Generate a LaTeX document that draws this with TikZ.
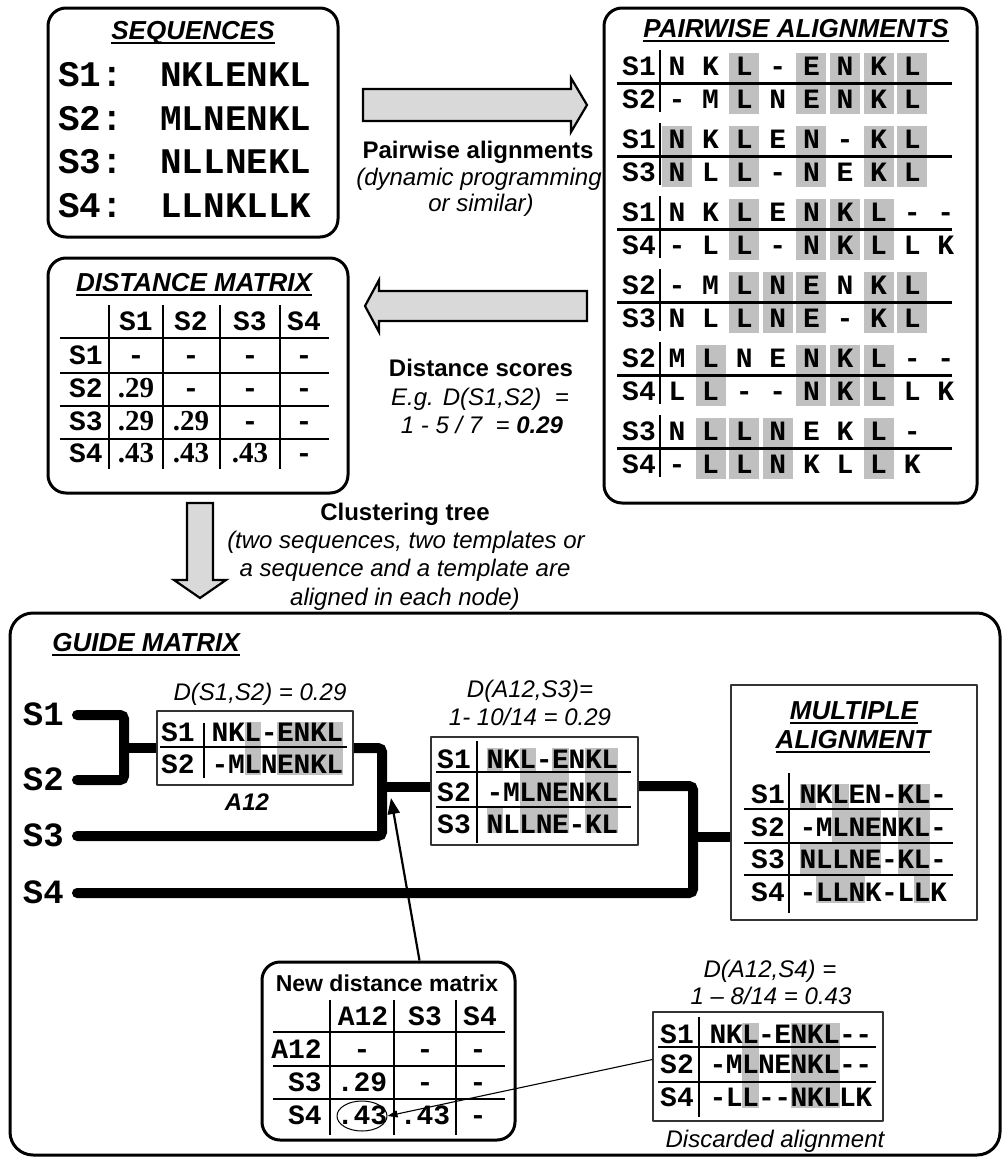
\documentclass[tikz,border=0pt]{standalone}
\usepackage{fontspec}
\setmainfont{Liberation Sans}
\setsansfont{Liberation Sans}
\setmonofont{Liberation Mono}
\newfontfamily\numfont{Liberation Serif}
\usetikzlibrary{arrows.meta,backgrounds,calc,positioning,shapes.geometric}
\definecolor{maShade}{HTML}{C0C0C0}
\definecolor{maArrowFill}{HTML}{D9D9D9}
\definecolor{maFrame}{HTML}{333333}
\newcommand{\fsLab}{\fontsize{24}{28}\selectfont}
\newcommand{\fsTitle}{\fontsize{26}{30}\selectfont}
\newcommand{\fsRes}{\fontsize{28}{30}\selectfont}
\newcommand{\fsSeq}{\fontsize{36}{40}\selectfont}
\newcommand{\fsTree}{\fontsize{34}{36}\selectfont}
\newcommand{\dmnum}[1]{{\numfont\bfseries\fontsize{29}{31}\selectfont #1}}
\tikzset{
  ma diagram/.style={x=1pt, y=-1pt, line join=round},
  ma panel/.style={draw, line width=3pt, rounded corners=18pt},
  ma frame/.style={draw=maFrame, line width=1.3pt, fill=white},
  ma block/.style={draw, line width=2.2pt, fill=maArrowFill, line join=miter},
  ma tree/.style={line width=10pt, line cap=round, rounded corners=4pt},
  ma rule/.style={line width=2.6pt},
  ma uline/.style={line width=2pt},
  ma shade/.style={fill=maShade},
  ma title/.style={font=\fsTitle\bfseries\itshape, inner sep=0pt, text height=19pt, text depth=0pt},
  ma label/.style={font=\fsLab, inner sep=0pt, text height=17pt, text depth=0pt},
  ma label bold/.style={ma label, font=\fsLab\bfseries},
  ma note/.style={ma label, font=\fsLab\itshape},
  ma res/.style={font=\ttfamily\bfseries\fsRes, inner sep=0pt, text height=16pt, text depth=0pt},
  ma seq/.style={font=\ttfamily\bfseries\fsSeq, inner sep=0pt, text height=21pt, text depth=0pt},
  ma tree label/.style={font=\ttfamily\bfseries\fsTree, inner sep=0pt, text height=20pt, text depth=0pt},
  ma pointer/.style={line width=2.2pt, -{Triangle[length=16pt,width=12pt]}},
  ma thin pointer/.style={line width=1.1pt, -{Triangle[length=10pt,width=7pt]}}
}
% underlined panel title: name, position, text
\newcommand{\ultitle}[3]{%
  \node[ma title] (#1) at (#2) {#3};
  \draw[ma uline] ([yshift=-3pt]#1.south west) -- ([yshift=-3pt]#1.south east);}
% one aligned row: name, x of first residue, step, y, residues
\newcommand{\seqrow}[5]{%
  \foreach \res [count=\k] in #5
    \node[ma res] (#1-\k) at ({#2+(\k-1)*#3},#4) {\res};}
% grey columns: x of first residue, step, half width, top, bottom, columns
\newcommand{\shadecols}[6]{%
  \foreach \k in #6
    \fill[ma shade] ({#1+(\k-1)*#2-#3},{#4}) rectangle ({#1+(\k-1)*#2+#3},{#5});}

\begin{document}
\begin{tikzpicture}[ma diagram]
\useasboundingbox (0,0) rectangle (1005,1162);

% sequences
\node[ma panel, minimum width=290pt, minimum height=229pt] (seqbox) at (193,122.5) {};
\ultitle{seqtitle}{193,30}{SEQUENCES}
\foreach \sname/\sres [count=\r] in {S1/NKLENKL,S2/MLNENKL,S3/NLLNEKL,S4/LLNKLLK}{
  \node[ma seq, anchor=west] (seq\r-lab) at (58,{32.5+43.5*\r}) {\sname:};
  \node[ma seq, anchor=west] (seq\r) at (160,{32.5+43.5*\r}) {\sres};
}

% step 1
\draw[ma block] (363,89) -- (571,89) -- (571,78) -- (587,105) -- (571,132) -- (571,121) -- (363,121) -- cycle;
\node[ma label bold] (pwtext1) at (478,150) {Pairwise alignments};
\node[ma note] (pwtext2) at (479,177) {(dynamic programming};
\node[ma note] (pwtext3) at (481,203) {or similar)};

% pairwise alignments
\node[ma panel, minimum width=373pt, minimum height=495pt] (pwbox) at (790.5,255.5) {};
\ultitle{pwtitle}{796,28}{PAIRWISE ALIGNMENTS}
\foreach \labA/\labB/\seqA/\seqB/\shcols [count=\p] in {
  S1/S2/{N,K,L,-,E,N,K,L}/{-,M,L,N,E,N,K,L}/{3,5,6,7,8},
  S1/S3/{N,K,L,E,N,-,K,L}/{N,L,L,-,N,E,K,L}/{1,3,5,7,8},
  S1/S4/{N,K,L,E,N,K,L,-,-}/{-,L,L,-,N,K,L,L,K}/{3,5,6,7},
  S2/S3/{-,M,L,N,E,N,K,L}/{N,L,L,N,E,-,K,L}/{3,4,5,7,8},
  S2/S4/{M,L,N,E,N,K,L,-,-}/{L,L,-,-,N,K,L,L,K}/{2,5,6,7},
  S3/S4/{N,L,L,N,E,K,L,-}/{-,L,L,N,K,L,L,K}/{2,3,4,7}}{
  \pgfmathsetmacro{\rowA}{67+73*(\p-1)}
  \pgfmathsetmacro{\rowB}{\rowA+33}
  \shadecols{677}{33.6}{15}{\rowA-14}{\rowB+14}{\shcols}
  \node[ma res] (pw\p-la) at (639,\rowA) {\labA};
  \node[ma res] (pw\p-lb) at (639,\rowB) {\labB};
  \seqrow{pw\p-a}{677}{33.6}{\rowA}{\seqA}
  \seqrow{pw\p-b}{677}{33.6}{\rowB}{\seqB}
  \draw[ma rule] (617,{\rowA+16.5}) -- (952,{\rowA+16.5});
  \draw[ma rule] (660,{\rowA-17}) -- (660,{\rowB+12});
}

% step 2
\draw[ma block] (587,291) -- (379,291) -- (379,280) -- (365,306) -- (379,332) -- (379,321) -- (587,321) -- cycle;
\node[ma label bold] (dstext1) at (481,368) {Distance scores};
\node[ma note] (dstext2) at (480,397) {E.g. D(S1,S2) \ =};
\node[ma note] (dstext3) at (482,425) {1 - 5 / 7 \ = \textbf{0.29}};

% distance matrix
\node[ma panel, minimum width=300pt, minimum height=235pt] (dmbox) at (198,375.5) {};
\ultitle{dmtitle}{194,282}{DISTANCE MATRIX}
\foreach \h/\x in {S1/136,S2/191,S3/250,S4/304}
  \node[ma res] (dm-h\h) at (\x,322) {\h};
\foreach \r/\y/\ca/\cb/\cc/\cd in {S1/356/-/-/-/-, S2/389/\dmnum{.29}/-/-/-,
    S3/422/\dmnum{.29}/\dmnum{.29}/-/-, S4/454/\dmnum{.43}/\dmnum{.43}/\dmnum{.43}/-}{
  \node[ma res] (dm-\r) at (86,\y) {\r};
  \node[ma res] (dm-\r-1) at (136,\y) {\ca};
  \node[ma res] (dm-\r-2) at (191,\y) {\cb};
  \node[ma res] (dm-\r-3) at (250,\y) {\cc};
  \node[ma res] (dm-\r-4) at (304,\y) {\cd};
}
\foreach \x in {109,163,220,280}
  \draw[ma rule] (\x,305) -- (\x,469);
\foreach \y in {338,373,406,439}
  \draw[ma rule] (60,\y) -- (329,\y);

% step 3
\draw[ma block] (187,503) -- (213,503) -- (213,580) -- (226,580) -- (200,598) -- (174,580) -- (187,580) -- cycle;
\node[ma label bold] (cttext1) at (405,512) {Clustering tree};
\node[ma note] (cttext2) at (406,540) {(two sequences, two templates or};
\node[ma note] (cttext3) at (405,568) {a sequence and a template are};
\node[ma note] (cttext4) at (405,597) {aligned in each node)};

% guide matrix
\node[ma panel, rounded corners=23pt, minimum width=990pt, minimum height=542pt] (guide) at (505,884) {};
\ultitle{gdtitle}{146,642}{GUIDE MATRIX}
\foreach \n/\y in {1/715,2/780,3/836,4/893}
  \node[ma tree label, anchor=east] (t-s\n) at (64,\y) {S\n};
\coordinate (j12) at (124,748);
\coordinate (j123) at (382,787);
\coordinate (j1234) at (693,837);
\coordinate (jtip) at (391,798);

% A12
\node[ma frame, minimum width=196pt, minimum height=74pt] (a12) at (255,748) {};
\node[ma note] (a12-d) at (260,692) {D(S1,S2) = 0.29};
\node[ma label, font=\fsLab\bfseries\itshape] (a12-name) at (247,802) {A12};
\shadecols{220}{16.4}{8.2}{722}{775}{{3,5,6,7,8}}
\node[ma res] (a12-l1) at (178,733) {S1};
\node[ma res] (a12-l2) at (178,765) {S2};
\seqrow{a12-1}{220}{16.4}{733}{{N,K,L,-,E,N,K,L}}
\seqrow{a12-2}{220}{16.4}{765}{{-,M,L,N,E,N,K,L}}
\draw[ma rule] (160,747) -- (347,747);
\draw[ma rule] (204,723) -- (204,778);

% A12 + S3
\node[ma frame, minimum width=207pt, minimum height=108pt] (a123) at (534.5,791) {};
\node[ma note] (a123-d1) at (530,689) {D(A12,S3)=};
\node[ma note] (a123-d2) at (530,717) {1- 10/14 = 0.29};
\shadecols{495}{16.4}{8.2}{748}{772}{{1,3,5,7,8}}
\shadecols{495}{16.4}{8.2}{772}{807}{{3,4,5,7,8}}
\shadecols{495}{16.4}{8.2}{807}{833}{{1,3,4,5,7,8}}
\node[ma res] (a123-l1) at (454,760) {S1};
\node[ma res] (a123-l2) at (454,793) {S2};
\node[ma res] (a123-l3) at (454,825) {S3};
\seqrow{a123-1}{495}{16.4}{760}{{N,K,L,-,E,N,K,L}}
\seqrow{a123-2}{495}{16.4}{793}{{-,M,L,N,E,N,K,L}}
\seqrow{a123-3}{495}{16.4}{825}{{N,L,L,N,E,-,K,L}}
\draw[ma rule] (436,772) -- (631,772);
\draw[ma rule] (436,807) -- (631,807);
\draw[ma rule] (477,741) -- (477,843);

% multiple alignment
\node[ma frame, minimum width=246pt, minimum height=235pt] (mult) at (854,802.5) {};
\ultitle{mult-t1}{854,710}{MULTIPLE}
\ultitle{mult-t2}{853,739}{ALIGNMENT}
\shadecols{808}{16.3}{8.15}{784}{809}{{1,3,7,8}}
\shadecols{808}{16.3}{8.15}{809}{843}{{3,4,5,7,8}}
\shadecols{808}{16.3}{8.15}{843}{875}{{1,2,3,4,5,7,8}}
\shadecols{808}{16.3}{8.15}{875}{903}{{2,3,4,8}}
\foreach \n/\y in {1/795,2/828,3/860,4/893}
  \node[ma res] (mult-l\n) at (768,\y) {S\n};
\seqrow{mult-1}{808}{16.3}{795}{{N,K,L,E,N,-,K,L,-}}
\seqrow{mult-2}{808}{16.3}{828}{{-,M,L,N,E,N,K,L,-}}
\seqrow{mult-3}{808}{16.3}{860}{{N,L,L,N,E,-,K,L,-}}
\seqrow{mult-4}{808}{16.3}{893}{{-,L,L,N,K,-,L,L,K}}
\foreach \y in {809,843,875}
  \draw[ma rule] (744,\y) -- (953,\y);
\draw[ma rule] (789,773) -- (789,913);

% discarded alignment
\node[ma frame, minimum width=230pt, minimum height=109pt] (disc) at (768,1066.5) {};
\node[ma note] (disc-d1) at (770,969) {D(A12,S4) =};
\node[ma note] (disc-d2) at (771,996) {1 – 8/14 = 0.43};
\node[ma note] (disc-name) at (775,1139) {Discarded alignment};
\shadecols{718}{16.2}{8.1}{1023}{1047}{{3,6,7,8}}
\shadecols{718}{16.2}{8.1}{1047}{1082}{{3,6,7,8}}
\shadecols{718}{16.2}{8.1}{1082}{1108}{{3,6,7,8}}
\node[ma res] (disc-l1) at (677,1035) {S1};
\node[ma res] (disc-l2) at (677,1065) {S2};
\node[ma res] (disc-l4) at (677,1098) {S4};
\seqrow{disc-1}{718}{16.2}{1035}{{N,K,L,-,E,N,K,L,-,-}}
\seqrow{disc-2}{718}{16.2}{1065}{{-,M,L,N,E,N,K,L,-,-}}
\seqrow{disc-4}{718}{16.2}{1098}{{-,L,L,-,-,N,K,L,L,K}}
\draw[ma rule] (658,1047) -- (876,1047);
\draw[ma rule] (658,1082) -- (876,1082);
\draw[ma rule] (699,1017) -- (699,1117);

% new distance matrix
\node[ma panel, fill=white, minimum width=253pt, minimum height=178pt] (newdm) at (388.5,1051) {};
\node[ma label bold, font=\fontsize{23}{26}\selectfont\bfseries] (newdm-t) at (387,983) {New distance matrix};
\foreach \h/\x in {A12/363,S3/425,S4/480}
  \node[ma res] (nd-h\h) at (\x,1017) {\h};
\foreach \r/\y/\ca/\cb/\cc in {A12/1050/-/-/-, S3/1083/.29/-/-, S4/1116/.43/.43/-}{
  \node[ma res, anchor=east] (nd-\r) at (322,\y) {\r};
  \node[ma res] (nd-\r-1) at (362,\y) {\ca};
  \node[ma res] (nd-\r-2) at (425,\y) {\cb};
  \node[ma res] (nd-\r-3) at (478,\y) {\cc};
}
\foreach \x in {330,394,456}
  \draw[ma rule] (\x,1000) -- (\x,1135);
\foreach \y in {1032,1066,1099}
  \draw[ma rule] (273,\y) -- (505,\y);
\node[draw, ellipse, line width=1pt, minimum width=50pt, minimum height=30pt] (ell43) at (362,1116) {};

% pointers
\draw[ma pointer] ([xshift=31pt]newdm.north) -- (jtip);
\draw[ma thin pointer] ([yshift=7pt]disc.west) -- (ell43.east);

% tree
\begin{scope}[on background layer]
  \draw[ma tree] ([xshift=13pt]t-s1.east) -| (j12) |- ([xshift=13pt]t-s2.east);
  \draw[ma tree] (j12) -- (a12.west);
  \draw[ma tree] (a12.east) -| (j123) |- ([xshift=13pt]t-s3.east);
  \draw[ma tree] (j123) -- (j123 -| a123.west);
  \draw[ma tree] ([yshift=5pt]a123.east) -| (j1234) |- ([xshift=13pt]t-s4.east);
  \draw[ma tree] (j1234) -- (j1234 -| mult.west);
\end{scope}
\end{tikzpicture}
\end{document}
